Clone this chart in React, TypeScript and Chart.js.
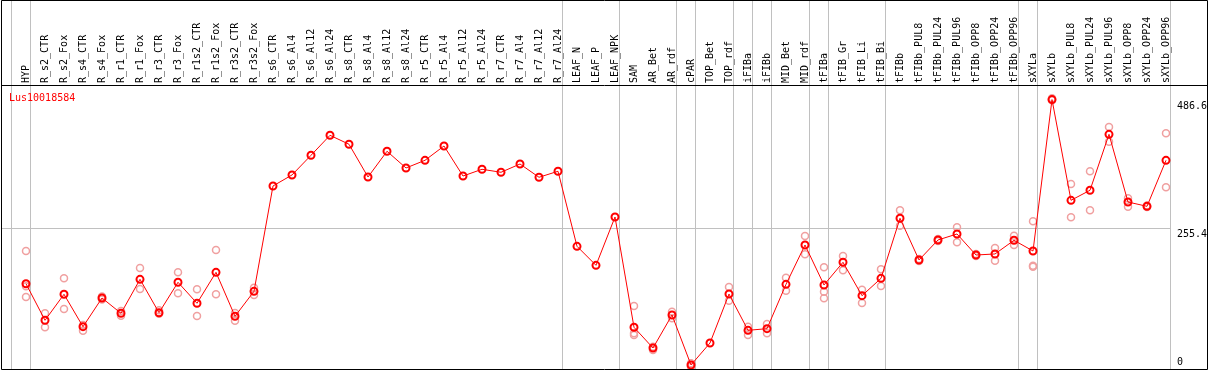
import React, { useEffect, useRef } from "react";
import { Chart, registerables } from "chart.js";

Chart.register(...registerables);

const title = "Lus10018584";

const categories = [
  "HYP", "R_s2_CTR", "R_s2_Fox", "R_s4_CTR", "R_s4_Fox", "R_r1_CTR", "R_r1_Fox",
  "R_r3_CTR", "R_r3_Fox", "R_r1s2_CTR", "R_r1s2_Fox", "R_r3s2_CTR", "R_r3s2_Fox",
  "R_s6_CTR", "R_s6_Al4", "R_s6_Al12", "R_s6_Al24", "R_s8_CTR", "R_s8_Al4",
  "R_s8_Al12", "R_s8_Al24", "R_r5_CTR", "R_r5_Al4", "R_r5_Al12", "R_r5_Al24",
  "R_r7_CTR", "R_r7_Al4", "R_r7_Al12", "R_r7_Al24", "LEAF_N", "LEAF_P", "LEAF_NPK",
  "SAM", "AR_Bet", "AR_rdf", "cPAR", "TOP_Bet", "TOP_rdf", "iFIBa", "iFIBb",
  "MID_Bet", "MID_rdf", "tFIBa", "tFIB_Gr", "tFIB_Li", "tFIB_Bi", "tFIBb",
  "tFIBb_PUL8", "tFIBb_PUL24", "tFIBb_PUL96", "tFIBb_OPP8", "tFIBb_OPP24",
  "tFIBb_OPP96", "sXYLa", "sXYLb", "sXYLb_PUL8", "sXYLb_PUL24", "sXYLb_PUL96",
  "sXYLb_OPP8", "sXYLb_OPP24", "sXYLb_OPP96",
];

const means = [
  154.8, 88.4, 135.6, 76.8, 128.9, 101.1, 162.8, 102.2, 157.4, 119.3, 175.5, 95.7, 141.0,
  332.2, 352.2, 387.9, 424.2, 407.9, 348.5, 395.2, 364.9, 378.8, 404.8, 350.3, 362.5,
  357.1, 372.1, 348.0, 358.9, 222.7, 188.2, 275.9,
  75.7, 38.1, 98.0, 7.3, 47.2, 136.1, 70.2, 73.2, 153.7, 225.1, 152.5, 193.7, 133.1,
  164.6, 273.6, 197.9, 234.2, 245.1, 206.9, 208.8, 233.6, 214.2, 489.0, 306.2, 324.4,
  426.0, 303.1, 295.3, 378.8,
];

const replicates: number[][] = [
  [214.2, 130.7, 150.0], [101.1, 75.7], [164.6, 108.9], [79.9, 69.5], [131.6, 126.2],
  [105.3, 96.8], [183.3, 145.2], [106.6, 100.4], [175.5, 137.4], [144.7, 96.2],
  [216.0, 135.6], [101.7, 87.7], [147.6, 134.3],
  [], [], [], [], [], [], [], [], [], [], [], [], [], [], [], [], [], [], [],
  [114.4, 64.8, 61.7], [40.5, 34.5], [104.0, 92.0], [10.3, 4.2], [],
  [148.8, 124.0], [76.8, 61.7], [81.7, 64.8], [165.7, 142.1], [241.4, 208.2],
  [184.6, 140.3, 128.3], [205.1, 179.2], [143.9, 119.8], [181.0, 150.7], [288.1, 260.1],
  [199.7, 196.1], [236.0, 232.3], [257.2, 230.0], [208.7, 205.1], [219.6, 196.6],
  [242.0, 225.1], [268.1, 187.5, 185.7], [491.4, 487.7], [335.8, 275.4], [358.9, 288.1],
  [439.3, 412.6], [309.9, 294.6], [296.8, 294.1], [427.8, 329.8],
];

const yTickValues = [0, 255.4, 486.6];
const yGridValues = [255.4];
const groupBreaks = [0, 1, 29, 32, 35, 36, 38, 39, 40, 42, 43, 46, 53, 54, 61];

const CELL_SHIFT = 15 / 19;
const MONO = "10px 'DejaVu Sans Mono', monospace";

const decorPlugin = {
  id: "decor",
  beforeDatasetsDraw(chart: any) {
    const { ctx, chartArea, scales } = chart;
    const xs = scales.x;
    const ys = scales.y;
    ctx.save();
    ctx.strokeStyle = "#c0c0c0";
    ctx.lineWidth = 1;
    ctx.beginPath();
    for (const k of groupBreaks) {
      const px = Math.round(xs.getPixelForValue(k - CELL_SHIFT)) + 0.5;
      ctx.moveTo(px, 0);
      ctx.lineTo(px, chartArea.bottom);
    }
    for (const v of yGridValues) {
      const py = Math.round(ys.getPixelForValue(v)) + 0.5;
      ctx.moveTo(chartArea.left, py);
      ctx.lineTo(chartArea.right, py);
    }
    ctx.stroke();
    ctx.restore();
  },
  afterDatasetsDraw(chart: any) {
    const { ctx, chartArea, scales, width } = chart;
    const xs = scales.x;
    const ys = scales.y;
    ctx.save();
    // frame
    ctx.strokeStyle = "#000";
    ctx.lineWidth = 1;
    ctx.beginPath();
    ctx.moveTo(1.5, 0.5);
    ctx.lineTo(width - 1.5, 0.5);
    ctx.lineTo(width - 1.5, 369.5);
    ctx.lineTo(1.5, 369.5);
    ctx.closePath();
    ctx.moveTo(1.5, chartArea.top + 0.5);
    ctx.lineTo(width - 1.5, chartArea.top + 0.5);
    ctx.stroke();

    // category labels (rotated)
    ctx.font = MONO;
    ctx.fillStyle = "#000";
    ctx.textAlign = "left";
    ctx.textBaseline = "middle";
    categories.forEach((label, i) => {
      const px = xs.getPixelForValue(i);
      ctx.save();
      ctx.translate(px + 0.5, chartArea.top - 2);
      ctx.rotate(-Math.PI / 2);
      ctx.fillText(label, 0, 0);
      ctx.restore();
    });

    // title
    ctx.fillStyle = "#ff0000";
    ctx.textBaseline = "alphabetic";
    ctx.fillText(title, 9, chartArea.top + 16);

    // y tick labels
    ctx.fillStyle = "#000";
    for (const v of yTickValues) {
      const py = ys.getPixelForValue(v);
      const base = Math.min(py + 8.5, chartArea.bottom - 4);
      ctx.fillText(String(v), chartArea.right + 7, base);
    }
    ctx.restore();
  },
};

export default function App() {
  const ref = useRef<HTMLCanvasElement | null>(null);
  useEffect(() => {
    document.body.style.margin = "0";
    const canvas = ref.current;
    if (!canvas) return;
    const meanData = means.map((v, i) => ({ x: i, y: v }));
    const repData: { x: number; y: number }[] = [];
    replicates.forEach((reps, i) => reps.forEach((v) => repData.push({ x: i, y: v })));
    const chart = new Chart(canvas, {
      type: "line",
      data: {
        datasets: [
          {
            label: title,
            data: meanData,
            borderColor: "#ff0000",
            borderWidth: 1,
            pointRadius: 3.5,
            pointBorderWidth: 2,
            pointBorderColor: "#ff0000",
            pointBackgroundColor: "rgba(0,0,0,0)",
            pointStyle: "circle",
            tension: 0,
            clip: false as any,
          },
          {
            label: "replicates",
            data: repData,
            showLine: false,
            borderColor: "#f0a0a0",
            pointRadius: 3.5,
            pointBorderWidth: 1.5,
            pointBorderColor: "#f0a0a0",
            pointBackgroundColor: "rgba(0,0,0,0)",
            clip: false as any,
          },
        ],
      },
      options: {
        responsive: false,
        animation: false,
        layout: { autoPadding: false, padding: { left: 2, right: 39, top: 85, bottom: 1 } },
        plugins: { legend: { display: false }, tooltip: { enabled: false } },
        events: [],
        scales: {
          x: { type: "linear", display: false, min: -24 / 19, max: 1144 / 19 },
          y: { type: "linear", display: false, min: 0, max: 515.5 },
        },
      },
      plugins: [decorPlugin],
    });
    return () => chart.destroy();
  }, []);
  return (
    <div style={{ width: 1209, height: 370 }}>
      <canvas ref={ref} width={1209} height={370} style={{ display: "block" }} />
    </div>
  );
}
